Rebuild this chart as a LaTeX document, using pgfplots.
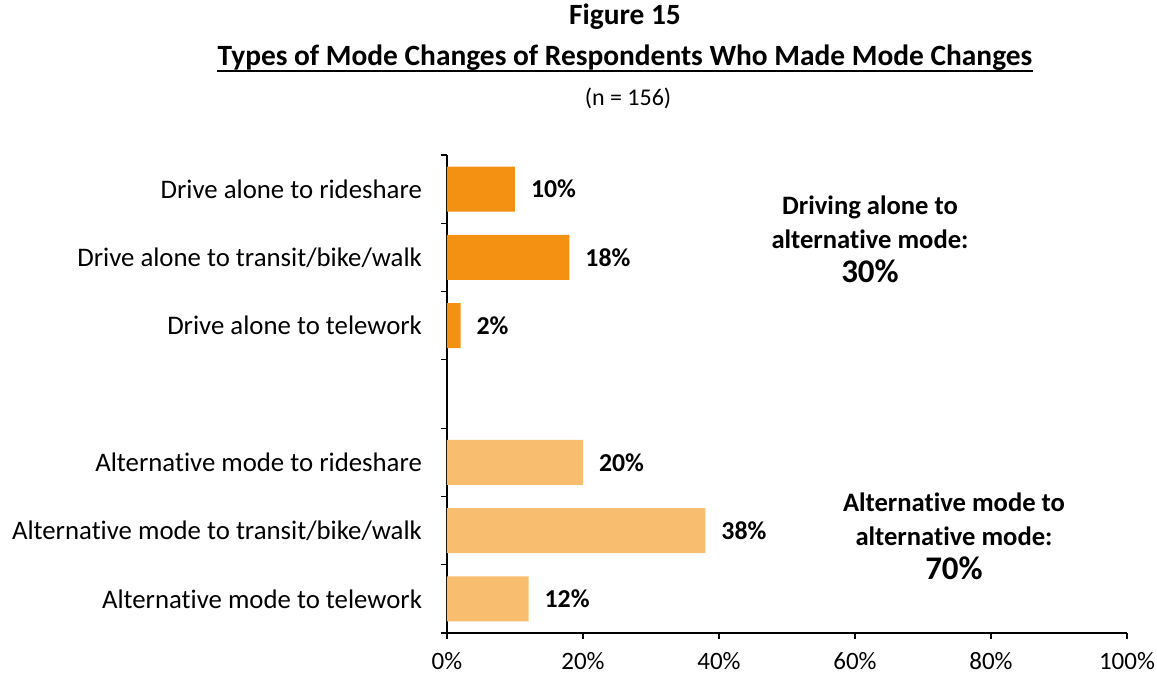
\documentclass[border=0pt]{standalone}
\usepackage{fontspec}
\setmainfont{Carlito}[Ligatures=NoCommon]
\usepackage{pgfplots}
\pgfplotsset{compat=1.18}
\definecolor{darkor}{RGB}{245,145,18}
\definecolor{lightor}{RGB}{249,189,112}
\begin{document}
\begin{tikzpicture}
\begin{axis}[
  at={(223.5pt,21pt)}, anchor=south west,
  scale only axis, width=340pt, height=239pt,
  xmin=0, xmax=100, ymin=0, ymax=7,
  axis lines*=left,
  axis line style={-, line width=0.75pt},
  every tick/.style={black, line width=0.6pt},
  tick align=outside, major tick length=3pt,
  xtick={0,20,40,60,80,100},
  xticklabel={\pgfmathprintnumber{\tick}\%},
  ytick={0,1,...,7}, yticklabels={},
  extra y ticks={0.5,1.5,2.5,4.5,5.5,6.5},
  extra y tick labels={Alternative mode to telework,Alternative mode to transit/bike/walk,Alternative mode to rideshare,Drive alone to telework,Drive alone to transit/bike/walk,Drive alone to rideshare},
  extra y tick style={major tick length=0pt, tick label style={xshift=-9pt}},
  /pgf/number format/assume math mode=true,
  yticklabel style={font=\fontsize{13.4}{15}\selectfont, black},
  xticklabel style={font=\fontsize{12.5}{14}\selectfont, black, yshift=-3pt},
  xbar, bar width=22.5pt, bar shift=0pt,
  nodes near coords={\pgfmathprintnumber{\pgfplotspointmeta}\%},
  point meta=x,
  every node near coord/.append style={font=\fontsize{12.9}{14}\selectfont\bfseries, xshift=4.5pt, black},
  clip=false,
]
\addplot[fill=darkor, draw=none] coordinates {(10,6.5) (18,5.5) (2,4.5)};
\addplot[fill=lightor, draw=none] coordinates {(20,2.5) (38,1.5) (12,0.5)};
\end{axis}
\node[font=\fontsize{14.7}{17}\selectfont\bfseries] at (312.5pt,329pt) {Figure 15};
\node[font=\fontsize{14.7}{17}\selectfont\bfseries, inner sep=0pt, anchor=base] (t) at (312.5pt,304.5pt) {Types of Mode Changes of Respondents Who Made Mode Changes};
\draw[line width=1.1pt] ([yshift=-2.6pt]t.base west) -- ([yshift=-2.6pt]t.base east);
\node[font=\fontsize{12}{14}\selectfont] at (314pt,288.5pt) {(n = 156)};
\node[font=\fontsize{13.3}{17}\selectfont\bfseries, align=center] at (435pt,218pt) {Driving alone to\\alternative mode:\\{\fontsize{16.5}{17}\selectfont 30\%}};
\node[font=\fontsize{13.3}{17}\selectfont\bfseries, align=center] at (477pt,69.5pt) {Alternative mode to\\alternative mode:\\{\fontsize{16.5}{17}\selectfont 70\%}};
\pgfresetboundingbox
\useasboundingbox (0,0) rectangle (578.5pt,337.5pt);
\end{tikzpicture}
\end{document}
